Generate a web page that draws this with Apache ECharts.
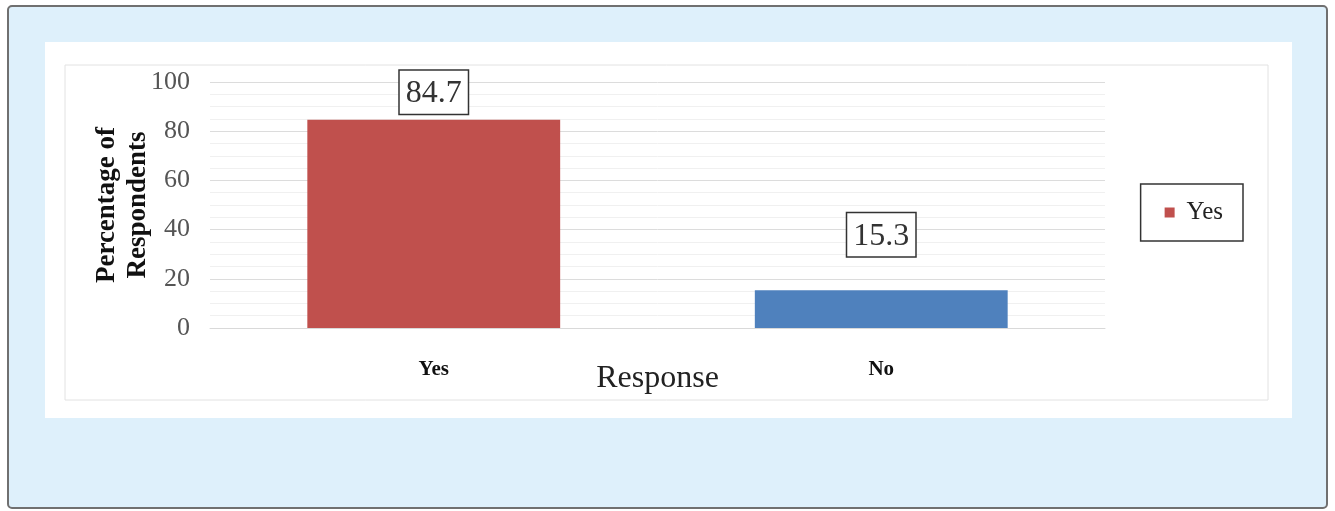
<!DOCTYPE html>
<html>
<head>
<meta charset="utf-8">
<script src="https://cdn.jsdelivr.net/npm/echarts@6/dist/echarts.min.js"></script>
<style>
	html, body { margin: 0; padding: 0; background: #ffffff; }
	#chart { width: 1335px; height: 511px; }
</style>
</head>
<body>
<div id="chart"></div>
<script>
// chart data
var categories = ['Yes', 'No'];
var values = [84.7, 15.3];
var barColors = ['#c0504d', '#4f81bd'];
var labelGaps = [6, 34];

var chart = echarts.init(document.getElementById('chart'));

var serif = '"Liberation Serif", "DejaVu Serif", serif';

var barData = values.map(function(v, i) {
	return {
		value: v,
		itemStyle: { color: barColors[i] },
		label: { distance: labelGaps[i] }
	};
});

var option = {
	backgroundColor: 'transparent',
	animation: false,
	graphic: [{
		type: 'rect',
		z: -10,
		shape: { x: 8, y: 6, width: 1319, height: 502, r: 4 },
		style: { fill: '#def0fb', stroke: '#707070', lineWidth: 2 }
	}, {
		type: 'rect',
		z: -9,
		shape: { x: 45, y: 42, width: 1247, height: 376 },
		style: { fill: '#ffffff' }
	}, {
		type: 'rect',
		z: -8,
		shape: { x: 65, y: 65, width: 1203, height: 335 },
		style: { fill: '#ffffff', stroke: '#e2e2e2', lineWidth: 1 }
	}],
	legend: {
		right: 92,
		top: 184,
		data: ['Yes'],
		orient: 'vertical',
		padding: [16, 20, 16, 24],
		borderColor: '#333',
		borderWidth: 1.5,
		itemWidth: 10,
		itemHeight: 10,
		itemGap: 8,
		icon: 'rect',
		textStyle: { fontFamily: serif, fontSize: 25, color: '#222', padding: [0, 0, 0, 7] }
	},
	grid: { left: 210, right: 230, top: 82, bottom: 183 },
	xAxis: {
		type: 'category',
		data: categories,
		name: 'Response',
		nameLocation: 'middle',
		nameGap: 35,
		nameMoveOverlap: false,
		nameTextStyle: { fontFamily: serif, fontSize: 32, color: '#222' },
		axisLine: { lineStyle: { color: '#d9d9d9' } },
		axisTick: { show: false },
		axisLabel: { fontFamily: serif, fontSize: 21, fontWeight: 'bold', color: '#111', margin: 31 }
	},
	yAxis: {
		type: 'value',
		min: 0,
		max: 100,
		interval: 20,
		name: 'Percentage of\nRespondents',
		nameLocation: 'middle',
		nameGap: 56,
		nameMoveOverlap: false,
		nameRotate: 90,
		nameTextStyle: { fontFamily: serif, fontSize: 27, fontWeight: 'bold', color: '#111', lineHeight: 31 },
		axisLine: { show: false },
		axisTick: { show: false },
		axisLabel: { fontFamily: serif, fontSize: 26, color: '#555', margin: 20 },
		splitLine: { lineStyle: { color: '#dcdcdc' } },
		minorTick: { show: false, splitNumber: 4 },
		minorSplitLine: { show: true, lineStyle: { color: '#f0f0f0' } }
	},
	series: [{
		name: 'Yes',
		type: 'bar',
		data: barData,
		barWidth: '56.5%',
		itemStyle: { color: barColors[0] },
		label: {
			show: true,
			position: 'top',
			fontFamily: serif,
			fontSize: 32,
			color: '#333',
			backgroundColor: '#fff',
			borderColor: '#333',
			borderWidth: 1.5,
			padding: [7, 6, 4, 6]
		}
	}]
};

chart.setOption(option);
</script>
</body>
</html>
